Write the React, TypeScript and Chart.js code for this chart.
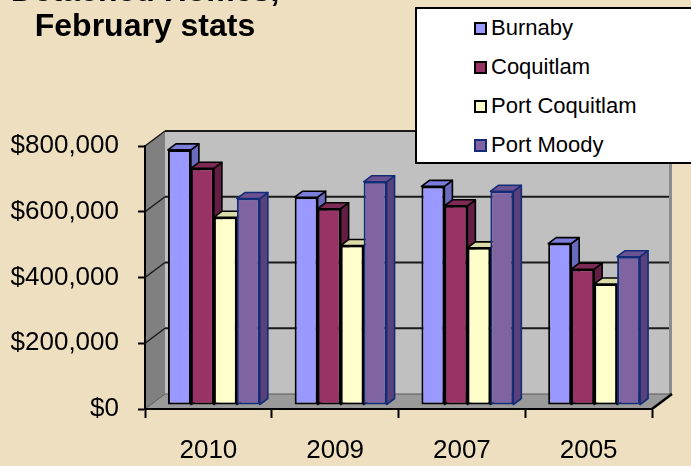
import React, { useEffect, useRef } from "react";
import { Chart, registerables } from "chart.js";

Chart.register(...registerables);

// ---- data ----
const categories = ["2010", "2009", "2007", "2005"];
const seriesNames = ["Burnaby", "Coquitlam", "Port Coquitlam", "Port Moody"];
const burnaby = [776000, 632000, 665000, 491000];
const coquitlam = [720000, 597000, 606000, 413000];
const portCoquitlam = [571000, 485000, 478000, 368000];
const portMoody = [628000, 679000, 650000, 451000];
const yTicks = [0, 200000, 400000, 600000, 800000];
const titleLines = ["Detached Homes,", "February stats"];

// ---- styles ----
const FONT = "'Liberation Sans', Arial, sans-serif";
const BG = "#EEDFC1";
const FRONT = ["#9999FF", "#993366", "#FFFFCC", "#8064A2"];
const TOP = ["#7C7CDA", "#7D2A55", "#DCDCAA", "#6C5290"];
const SIDE = ["#6A6ABF", "#641E43", "#C9C99A", "#584279"];
const BORDER = ["#000000", "#000000", "#000000", "#142C78"];

const DX = 20, DY = -15; // wall depth
const BX = 5.5, BY = -4; // bar front plane offset
const SX = 8, SY = -6; // bar depth

function poly(ctx: CanvasRenderingContext2D, pts: number[][], fill?: string, stroke?: string, lw = 1) {
  ctx.beginPath();
  ctx.moveTo(pts[0][0], pts[0][1]);
  for (let i = 1; i < pts.length; i++) ctx.lineTo(pts[i][0], pts[i][1]);
  ctx.closePath();
  if (fill) { ctx.fillStyle = fill; ctx.fill(); }
  if (stroke) { ctx.strokeStyle = stroke; ctx.lineWidth = lw; ctx.lineJoin = "round"; ctx.stroke(); }
}

const wallPlugin = {
  id: "walls3d",
  beforeDraw(chart: any) {
    const { ctx, chartArea, scales } = chart;
    const { left, top, right, bottom } = chartArea;
    const y = scales.y;
    ctx.save();
    // back wall
    ctx.fillStyle = "#C0C0C0";
    ctx.fillRect(left + DX, top + DY, right - left, bottom - top);
    ctx.fillStyle = "#8C8C8C";
    ctx.fillRect(right + DX - 3, top + DY, 3, bottom - top);
    // left wall
    poly(ctx, [[left, top], [left + DX, top + DY], [left + DX, bottom + DY], [left, bottom]], "#808080");
    // floor
    poly(ctx, [[left, bottom], [left + DX, bottom + DY], [right + DX, bottom + DY], [right, bottom]], "#9A9A9A");
    // gridlines
    yTicks.forEach((v) => {
      if (v === 0) return;
      const py = y.getPixelForValue(v);
      ctx.beginPath();
      ctx.moveTo(left, py);
      ctx.lineTo(left + DX, py + DY);
      ctx.strokeStyle = "#1A1A1A";
      ctx.lineWidth = 1.5;
      ctx.stroke();
      ctx.beginPath();
      ctx.moveTo(left + DX, py + DY);
      ctx.lineTo(right + DX - 3, py + DY);
      ctx.lineWidth = 2;
      ctx.stroke();
    });
    // floor edges
    ctx.beginPath();
    ctx.moveTo(left, bottom);
    ctx.lineTo(left + DX, bottom + DY);
    ctx.lineTo(right + DX, bottom + DY);
    ctx.strokeStyle = "#5A5A5A";
    ctx.lineWidth = 1;
    ctx.stroke();
    ctx.beginPath();
    ctx.moveTo(right, bottom);
    ctx.lineTo(right + DX, bottom + DY);
    ctx.strokeStyle = "#000";
    ctx.lineWidth = 2.5;
    ctx.stroke();
    ctx.restore();
  },
};

const barPlugin = {
  id: "bars3d",
  beforeDatasetsDraw(chart: any) {
    const ctx = chart.ctx;
    ctx.save();
    ctx.translate(BX, BY);
    const geo = (bar: any) => {
      const p = bar.getProps(["x", "y", "width", "base"], true);
      return { l: p.x - p.width / 2, r: p.x + p.width / 2, t: p.y, b: p.base };
    };
    chart.data.datasets.forEach((_: any, i: number) => {
      chart.getDatasetMeta(i).data.forEach((bar: any) => {
        const { r, t, b } = geo(bar);
        poly(ctx, [[r, t], [r + SX, t + SY], [r + SX, b + SY], [r, b]], SIDE[i], BORDER[i], 1.6);
      });
    });
    chart.data.datasets.forEach((_: any, i: number) => {
      chart.getDatasetMeta(i).data.forEach((bar: any) => {
        const { l, r, t } = geo(bar);
        poly(ctx, [[l, t], [l + SX, t + SY], [r + SX, t + SY], [r, t]], TOP[i], BORDER[i], 1.6);
      });
    });
  },
  afterDatasetsDraw(chart: any) {
    chart.ctx.restore();
  },
};

export default function App() {
  const ref = useRef<HTMLCanvasElement | null>(null);

  useEffect(() => {
    if (!ref.current) return;
    const seriesData = [burnaby, coquitlam, portCoquitlam, portMoody];
    const chart = new Chart(ref.current, {
      type: "bar",
      data: {
        labels: categories,
        datasets: seriesNames.map((name, i) => ({
          label: name,
          data: seriesData[i],
          backgroundColor: FRONT[i],
          borderColor: BORDER[i],
          borderWidth: 2,
          borderSkipped: false,
          barPercentage: 1,
          categoryPercentage: 0.725,
          inflateAmount: 0,
        })),
      },
      options: {
        responsive: false,
        animation: false,
        events: [],
        layout: { padding: { left: 0, top: 146, right: 39, bottom: 0 } },
        plugins: {
          legend: { display: false },
          title: { display: false },
          tooltip: { enabled: false },
        },
        scales: {
          x: {
            afterFit: (s: any) => { s.height = 57; },
            grid: {
              display: true,
              drawOnChartArea: false,
              drawTicks: true,
              tickLength: 9,
              tickWidth: 2,
              tickColor: "#000",
              offset: true,
            },
            border: { display: true, color: "#000", width: 2 },
            ticks: {
              color: "#000",
              padding: 17,
              font: { family: FONT, size: 26 },
              maxRotation: 0,
            },
          },
          y: {
            min: 0,
            max: 800000,
            afterFit: (s: any) => { s.width = 145; },
            afterBuildTicks: (s: any) => { s.ticks = yTicks.map((v) => ({ value: v })); },
            grid: {
              display: true,
              drawOnChartArea: false,
              drawTicks: true,
              tickLength: 7,
              tickWidth: 2,
              tickColor: "#000",
            },
            border: { display: true, color: "#000", width: 2 },
            ticks: {
              color: "#000",
              padding: 19,
              font: { family: FONT, size: 26 },
              callback: (v: any) => "$" + Number(v).toLocaleString("en-US"),
            },
          },
        },
      },
      plugins: [wallPlugin, barPlugin],
    });
    return () => chart.destroy();
  }, []);

  return (
    <div
      style={{
        position: "fixed",
        left: 0,
        top: 0,
        width: 691,
        height: 466,
        overflow: "hidden",
        background: BG,
        fontFamily: FONT,
      }}
    >
      <canvas ref={ref} width={691} height={466} style={{ position: "absolute", left: 0, top: 0 }} />
      <div
        style={{
          position: "absolute",
          left: 0,
          top: -27,
          width: 290,
          textAlign: "center",
          fontWeight: "bold",
          fontSize: 32,
          lineHeight: "35px",
          color: "#000",
          whiteSpace: "nowrap",
        }}
      >
        {titleLines.map((t) => (
          <div key={t}>{t}</div>
        ))}
      </div>
      <div
        style={{
          position: "absolute",
          left: 415,
          top: 7,
          width: 300,
          height: 153,
          background: "#fff",
          border: "2px solid #000",
        }}
      >
        {seriesNames.map((name, i) => (
          <div
            key={name}
            style={{
              position: "absolute",
              left: 57,
              top: 6 + 39 * i,
              height: 26,
              display: "flex",
              alignItems: "center",
              fontSize: 22,
              lineHeight: "26px",
              color: "#000",
              whiteSpace: "nowrap",
            }}
          >
            <span
              style={{
                display: "inline-block",
                width: 13,
                height: 13,
                boxSizing: "border-box",
                border: `2px solid ${BORDER[i]}`,
                background: FRONT[i],
                marginRight: 4,
              }}
            />
            {name}
          </div>
        ))}
      </div>
    </div>
  );
}
